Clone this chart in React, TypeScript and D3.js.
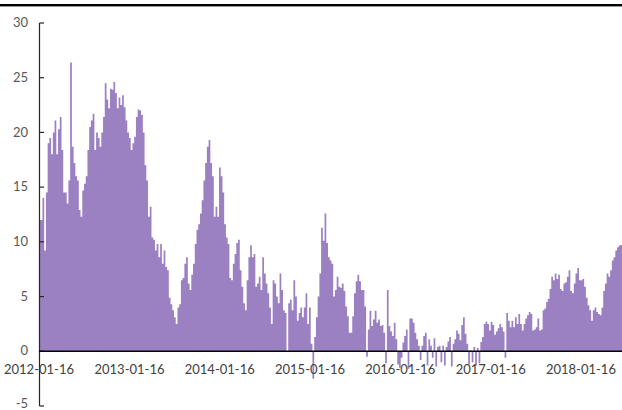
import React from "react";
import * as d3 from "d3";

// weekly observations, first week starting 2012-01-16
const startDate = "2012-01-16";
const endDate = "2018-07-01";

const tickLabels = [
  "2012-01-16",
  "2013-01-16",
  "2014-01-16",
  "2015-01-16",
  "2016-01-16",
  "2017-01-16",
  "2018-01-16",
];
const yTicks = [-5, 0, 5, 10, 15, 20, 25, 30];

const weeks2012 = [
  12, 12, 14, 9.2, 14.5, 19, 19.5, 18, 20, 21.1, 18, 20.3, 21.4, 18.4, 14.5,
  14.5, 13.5, 15.6, 26.4, 18.7, 17.2, 16, 15.6, 12.9, 12.3, 14.7, 15.3, 16,
  18.4, 20.5, 21.1, 21.7, 18.4, 20, 19.5, 18.7, 20, 21.4, 24.5, 23, 22.2, 24,
  23.9, 24.6, 23.6, 22.2, 23.2, 22.5, 23.4, 22.3, 21.1, 20, 19.5, 18.4, 19,
  19.6, 21.4,
];
const weeks2013 = [
  22.1, 22, 21.6, 20, 17, 15.6, 12.3, 13.2, 10.4, 10.2, 9.2, 9.8, 8.6, 9.8, 8,
  9.2, 7.7, 7.4, 4.9, 4.3, 3.75, 3.1, 2.5, 4.0, 4.3, 6.5, 6.7, 8, 8.6, 6.2, 5.6,
  7, 8, 9.8, 11.1, 11.6, 12.6, 13.8, 15.6, 17.2, 18.7, 19.3, 17.2, 16, 12.3,
  13.2, 12.3, 16.8, 16, 14.5, 11.6, 10.4, 9.8, 6.7, 6.5, 8, 8.9,
];
const weeks2014 = [
  9.9, 10.2, 7.4, 5.9, 4.4, 3.75, 6.5, 8.6, 9.7, 8.6, 8.9, 5.9, 6.2, 6.8, 5.6,
  8.6, 7.1, 6.2, 5.3, 4.0, 2.5, 6.5, 6.2, 5.0, 4.4, 7.1, 5.6, 3.75, 3.5, 0, 4.4,
  4.7, 3.75, 6.5, 5.0, 2.8, 3.5, 4.0, 3.1, 4, 5.3, 2.5, 4, 0.7, -2.5, 1.3, 3.1,
  5.0, 7.1, 11.3, 10.1, 12.6, 9.9, 8.6, 8.3, 8.0, 5.0,
];
const weeks2015 = [
  5.6, 6.8, 5.9, 5.8, 6.2, 5.5, 4.1, 3.2, 1.7, 1.7, 3.2, 5.3, 6.4, 7.0, 6.4, 5.6,
  5.6, 4.1, -0.5, 2.0, 3.7, 2.3, 2.9, 3.7, 2.6, 2.9, 2.3, 2.4, 1.7, -1.1, 5.6,
  2.3, 1.8, 1.4, 2.6, 1.1, -1.2, -1.5, -0.6, 0.8, 1.4, 2.0, -1.6, 3.0, 3.0, 2.6,
  1.7, 1.1, 0.5, -0.8, 0.5, 1.4, 1.7, -1.3, 1.1, 0.5, -0.6,
];
const weeks2016 = [
  1.2, -1.4, 0.4, 0.5, -1.0, 0.5, -1.3, 0.4, 0.9, 1.3, -1.4, 0.7, 1.1, 1.9, 1.6,
  1.0, 2.4, 3.1, 1.6, 0.7, -1.2, 0.1, -1.0, 0.4, -1.3, 0.3, -1.1, 0.85, 1.3, 2.5,
  2.7, 2.5, 1.9, 2.7, 2.4, 1.5, 1.8, 2.1, 2.5, 2.2, 1.8, -0.6, 3.5, 2.8, 2.2,
  2.8, 2.2, 3.1, 2.5, 3.4, 2.5, 1.9, 2.5, 3.0, 3.3, 3.6, 3.4,
];
const weeks2017 = [
  1.9, 2.0, 2.2, 3.0, 1.9, 2.0, 3.75, 3.9, 4.5, 4.8, 5.7, 6.8, 6.5, 7.1, 6.6,
  7.0, 5.7, 5.5, 6.2, 6.3, 6.8, 7.4, 5.5, 5.3, 6.2, 7.1, 7.6, 6.5, 6.5, 6.6, 5.9,
  4.9, 4.2, 3.75, 2.8, 3.75, 4.0, 3.6, 3.4, 3.3, 4.0, 5.5, 6.2, 7.1, 6.8, 7.4,
  8.3, 8.6, 9.2, 9.5, 9.7, 9.7,
];

const values = [
  ...weeks2012,
  ...weeks2013,
  ...weeks2014,
  ...weeks2015,
  ...weeks2016,
  ...weeks2017,
];

const W = 622;
const H = 410;
const parse = d3.timeParse("%Y-%m-%d");
const start = parse(startDate) as Date;

const data = values.map((v, i) => ({ date: d3.timeDay.offset(start, i * 7), value: v }));
// extra point closing the last week's step
const stepData = [
  ...data,
  { date: d3.timeDay.offset(start, values.length * 7), value: values[values.length - 1] },
];

const x = d3
  .scaleTime()
  .domain([start, parse(endDate) as Date])
  .range([39, 622]);
const y = d3.scaleLinear().domain([-5, 30]).range([406, 23]);

const area = d3
  .area<{ date: Date; value: number }>()
  .curve(d3.curveStepAfter)
  .x((d) => x(d.date))
  .y0(y(0))
  .y1((d) => y(d.value));

const App = () => {
  const font = "Lato, 'Open Sans', sans-serif";
  return (
    <svg
      width={W}
      height={H}
      style={{ position: "absolute", left: 0, top: 0, background: "#fff" }}
    >
      <rect x={0} y={4} width={W} height={2.4} fill="#000" />
      <path d={area(stepData) || ""} fill="#9b80c2" />
      {/* y axis */}
      <line x1={39.5} x2={39.5} y1={y(30)} y2={y(-5)} stroke="#262626" strokeWidth={1.2} />
      {yTicks.map((t) => (
        <g key={t}>
          <line x1={39.5} x2={44} y1={y(t)} y2={y(t)} stroke="#262626" strokeWidth={1.2} />
          <text
            x={28}
            y={t === -5 ? y(t) - 2 : y(t)}
            dy="0.32em"
            textAnchor="end"
            fontFamily={font}
            fontSize={13}
            fill="#595959"
          >
            {t}
          </text>
        </g>
      ))}
      {/* x axis */}
      <line x1={39} x2={W} y1={y(0)} y2={y(0)} stroke="#000" strokeWidth={1.5} />
      {tickLabels.map((t) => (
        <text
          key={t}
          x={x(parse(t) as Date)}
          y={374}
          textAnchor="middle"
          fontFamily={font}
          fontSize={13}
          fill="#404040"
        >
          {t}
        </text>
      ))}
    </svg>
  );
};

export default App;
